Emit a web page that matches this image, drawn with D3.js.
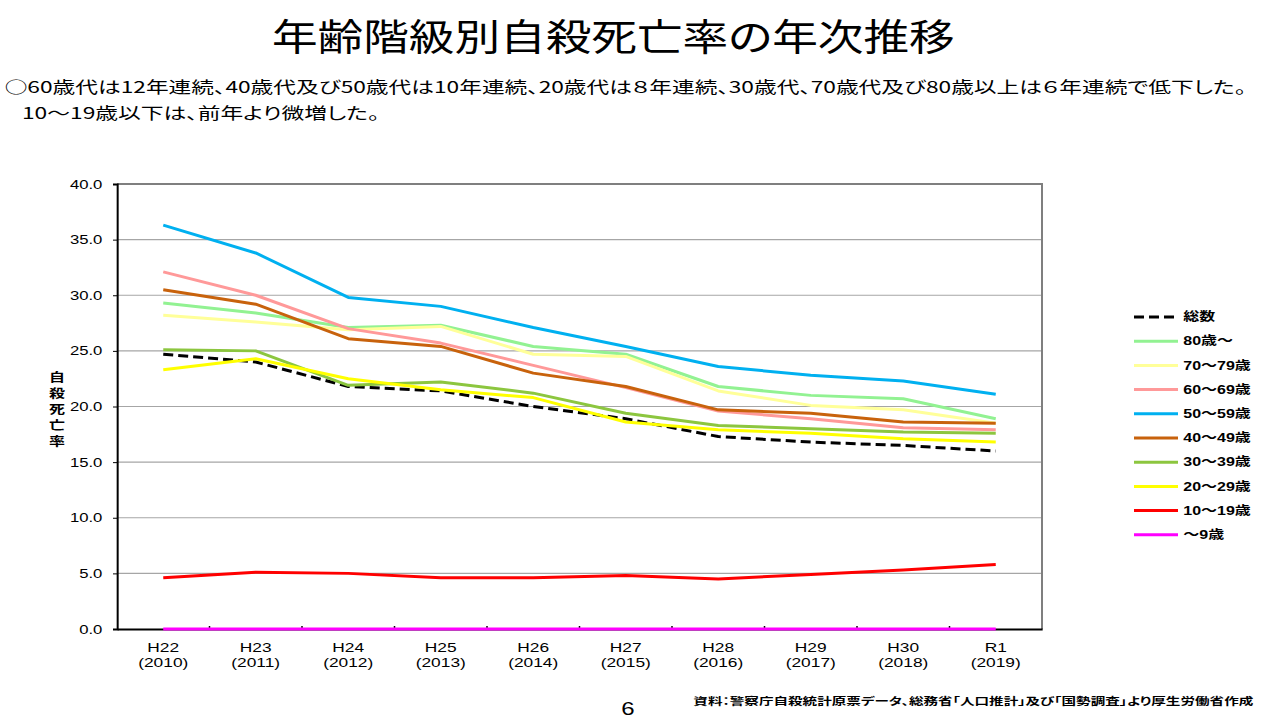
<!DOCTYPE html>
<html>
<head>
<meta charset="utf-8">
<script src="https://cdn.jsdelivr.net/npm/d3@7"></script>
<style>
  html, body { margin: 0; padding: 0; background: #fff; overflow: hidden; }
  svg { display: block; }
  text { font-family: "Liberation Sans", "Noto Sans CJK JP", sans-serif; fill: #000; }
  .jp { font-family: "Noto Sans CJK JP", sans-serif; font-feature-settings: "palt"; }
  .line { fill: none; stroke-width: 3px; vector-effect: non-scaling-stroke; stroke-linejoin: round; }
  .nss { vector-effect: non-scaling-stroke; }
</style>
</head>
<body>
<!-- the slide is a 4:3 page stretched to 16:9, so draw in 960 units and let the viewBox stretch it -->
<svg id="chart" width="1280" height="720" viewBox="0 0 960 720" preserveAspectRatio="none"></svg>
<script>
/* eslint-env browser */
const years = ['H22', 'H23', 'H24', 'H25', 'H26', 'H27', 'H28', 'H29', 'H30', 'R1'];
const yearsAD = ['(2010)', '(2011)', '(2012)', '(2013)', '(2014)', '(2015)', '(2016)', '(2017)', '(2018)', '(2019)'];
const yTicks = [0, 5, 10, 15, 20, 25, 30, 35, 40];

const total = [24.7, 24.0, 21.8, 21.4, 20.0, 18.9, 17.3, 16.8, 16.5, 16.0];
const age80 = [29.3, 28.4, 27.1, 27.3, 25.4, 24.7, 21.8, 21.0, 20.7, 18.9];
const age70 = [28.2, 27.6, 26.9, 27.2, 24.7, 24.5, 21.4, 20.1, 19.7, 18.5];
const age60 = [32.1, 30.0, 27.0, 25.7, 23.7, 21.7, 19.6, 18.9, 18.1, 17.9];
const age50 = [36.3, 33.8, 29.8, 29.0, 27.1, 25.4, 23.6, 22.8, 22.3, 21.1];
const age40 = [30.5, 29.2, 26.1, 25.4, 23.0, 21.8, 19.7, 19.4, 18.6, 18.5];
const age30 = [25.1, 25.0, 21.9, 22.2, 21.2, 19.4, 18.3, 18.0, 17.7, 17.6];
const age20 = [23.3, 24.3, 22.5, 21.5, 20.8, 18.6, 17.9, 17.6, 17.1, 16.8];
const age10 = [4.6, 5.1, 5.0, 4.6, 4.6, 4.8, 4.5, 4.9, 5.3, 5.8];
const age0 = [0, 0, 0, 0, 0, 0, 0, 0, 0, 0];

const seriesNames = ['総数', '80歳～', '70～79歳', '60～69歳', '50～59歳', '40～49歳', '30～39歳', '20～29歳', '10～19歳', '～9歳'];
const seriesValues = [total, age80, age70, age60, age50, age40, age30, age20, age10, age0];

const palette = ['#000000', '#92f292', '#ffff99', '#ff9999', '#00b0f0', '#c8620c', '#8cc63f', '#ffff00', '#ff0000', '#ff00ff'];

const svg = d3.select('#chart');
const cs = { left: 87.75, right: 781.5, top: 184, bottom: 629 };

// titles
svg.append('text').attr('class', 'jp')
  .attr('x', 204).attr('y', 51)
  .attr('font-size', 37).attr('font-weight', 400)
  .attr('textLength', 512).attr('lengthAdjust', 'spacingAndGlyphs')
  .text('年齢階級別自殺死亡率の年次推移');
svg.append('text').attr('class', 'jp')
  .attr('x', 3.5).attr('y', 93)
  .attr('font-size', 16)
  .attr('textLength', 931).attr('lengthAdjust', 'spacingAndGlyphs')
  .text('○60歳代は12年連続、40歳代及び50歳代は10年連続、20歳代は８年連続、30歳代、70歳代及び80歳以上は６年連続で低下した。');
svg.append('text').attr('class', 'jp')
  .attr('x', 16.5).attr('y', 119)
  .attr('font-size', 16)
  .attr('textLength', 268).attr('lengthAdjust', 'spacingAndGlyphs')
  .text('10～19歳以下は、前年より微増した。');

// scales
const x = d3.scaleBand().domain(years).range([cs.left, cs.right]);
const xc = d => x(d) + x.bandwidth() / 2;
const y = d3.scaleLinear().domain([0, 40]).range([cs.bottom, cs.top]);

// grid
svg.append('g').selectAll('line').data(yTicks.filter(t => t > 0 && t < 40)).join('line')
  .attr('class', 'nss')
  .attr('x1', cs.left).attr('x2', cs.right)
  .attr('y1', d => y(d)).attr('y2', d => y(d))
  .attr('stroke', '#a6a6a6').attr('stroke-width', 1.2);
// top and right frame
svg.append('path').attr('class', 'nss')
  .attr('d', `M${cs.left},${y(40)}H${cs.right}V${cs.bottom}`)
  .attr('fill', 'none').attr('stroke', '#7f7f7f').attr('stroke-width', 2);

// y axis
const yAxis = svg.append('g')
  .attr('transform', `translate(${cs.left},0)`)
  .call(d3.axisLeft(y).tickValues(yTicks).tickFormat(d3.format('.1f')).tickSize(3).tickPadding(8));
yAxis.select('.domain').attr('class', 'domain nss').attr('stroke', '#000').attr('stroke-width', 2);
yAxis.selectAll('.tick line').attr('class', 'nss').attr('stroke', '#000');
yAxis.selectAll('.tick text').attr('font-size', 12.5).attr('fill', '#111')
  .attr('font-family', '"Liberation Sans", sans-serif');

// y label, stacked vertically
const yLabel = '自殺死亡率'.split('');
svg.append('g').selectAll('text').data(yLabel).join('text')
  .attr('class', 'jp')
  .attr('x', 42.75).attr('y', (d, i) => 377 + i * 16)
  .attr('text-anchor', 'middle').attr('dominant-baseline', 'central')
  .attr('font-size', 12).attr('font-weight', 'bold')
  .text(d => d);

// x axis
const xAxis = svg.append('g')
  .attr('transform', `translate(0,${cs.bottom})`)
  .call(d3.axisBottom(x).tickSize(0).tickPadding(0).tickFormat(''));
xAxis.select('.domain').attr('class', 'domain nss').attr('stroke', '#000').attr('stroke-width', 2);
xAxis.selectAll('.tick text').remove();
// category boundary tick marks pointing up
svg.append('g').selectAll('line').data(years.slice(1)).join('line')
  .attr('class', 'nss')
  .attr('x1', d => x(d)).attr('x2', d => x(d))
  .attr('y1', cs.bottom).attr('y2', cs.bottom - 3)
  .attr('stroke', '#000').attr('stroke-width', 1.5);
const xLab = svg.append('g').selectAll('text').data(years).join('text')
  .attr('x', d => xc(d)).attr('text-anchor', 'middle')
  .attr('font-size', 13).attr('fill', '#111');
xLab.append('tspan').attr('x', d => xc(d)).attr('y', 652).text(d => d);
xLab.append('tspan').attr('x', d => xc(d)).attr('y', 667).text((d, i) => yearsAD[i]);

// series
const line = d3.line().x((d, i) => xc(years[i])).y(d => y(d));
svg.append('g').selectAll('path').data(seriesValues).join('path')
  .attr('class', 'line')
  .attr('stroke', (d, i) => palette[i])
  .attr('stroke-dasharray', (d, i) => (i === 0 ? '10,5' : null))
  .attr('d', line);

// legend
const legend = svg.append('g').selectAll('g').data(seriesNames).join('g')
  .attr('transform', (d, i) => `translate(0,${317 + i * 24.2})`);
legend.append('line')
  .attr('class', 'line')
  .attr('x1', 850.5).attr('x2', 883.5)
  .attr('stroke', (d, i) => palette[i])
  .attr('stroke-dasharray', (d, i) => (i === 0 ? '10,5' : null));
legend.append('text')
  .attr('x', 887.5).attr('dominant-baseline', 'central')
  .attr('font-size', 12).attr('font-weight', 'bold').attr('fill', '#222')
  .text(d => d);

// footer
svg.append('text')
  .attr('x', 471).attr('y', 715)
  .attr('text-anchor', 'middle').attr('font-size', 18)
  .text('6');
svg.append('text').attr('class', 'jp')
  .attr('x', 520).attr('y', 705)
  .attr('font-size', 10).attr('font-weight', 'bold')
  .attr('textLength', 420).attr('lengthAdjust', 'spacingAndGlyphs')
  .text('資料：警察庁自殺統計原票データ、総務省「人口推計」及び「国勢調査」より厚生労働省作成');
</script>
</body>
</html>
